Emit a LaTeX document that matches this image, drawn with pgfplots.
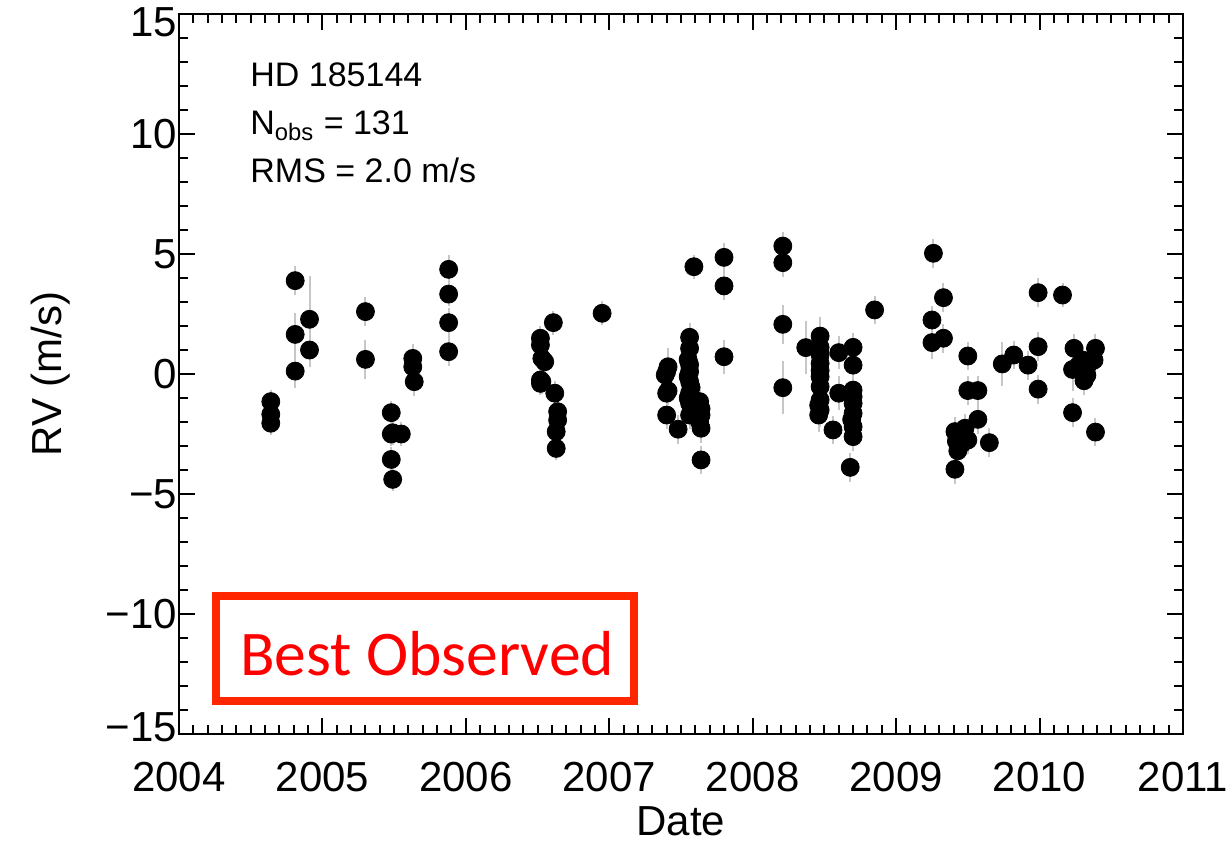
\documentclass[border=0pt]{standalone}
\usepackage{pgfplots}
\pgfplotsset{compat=1.18}
\usepackage{pgfplotstable}
\usepackage{fontspec}
\setmainfont{Liberation Sans}
\newfontfamily\calibrifont{Carlito}

\definecolor{boxred}{RGB}{255,38,0}
\definecolor{textred}{RGB}{255,0,0}

% Radial velocity measurements: date (yr), RV (m/s), uncertainty (m/s)
\pgfplotstableread{
t        rv     e
2004.64  -1.15  0.5
2004.64  -1.68  0.5
2004.64  -2.05  0.5
2004.81   3.89  0.6
2004.81   1.65  0.9
2004.81   0.12  0.7
2004.91   2.28  1.8
2004.91   1.00  0.7
2005.30   2.60  0.6
2005.30   0.61  0.8
2005.48  -1.61  0.5
2005.48  -2.50  0.5
2005.55  -2.50  0.5
2005.48  -3.56  0.5
2005.49  -4.39  0.5
2005.49  -2.45  0.5
2005.63   0.65  0.6
2005.63   0.30  0.5
2005.64  -0.32  0.6
2005.88   4.36  0.6
2005.88   3.33  0.5
2005.88   2.14  0.6
2005.88   0.93  0.6
2006.61   2.14  0.5
2006.52   1.49  0.5
2006.52   1.21  0.5
2006.53   0.65  0.5
2006.55   0.51  0.5
2006.52  -0.25  0.5
2006.52  -0.39  0.5
2006.53  -0.32  0.5
2006.62  -0.80  0.5
2006.64  -1.57  0.5
2006.64  -1.92  0.5
2006.63  -2.40  0.5
2006.63  -3.10  0.5
2006.95   2.53  0.5
2007.41   0.30  0.8
2007.39  -0.04  0.6
2007.40  -0.80  0.6
2007.40  -1.71  0.6
2007.48  -2.30  0.6
2007.40   0.10  0.6
2007.41  -0.70  0.6
2007.56   1.53  0.6
2007.56   1.07  0.6
2007.56   0.38  0.6
2007.55  -0.11  0.6
2007.56  -0.32  0.6
2007.56  -0.80  0.6
2007.56  -1.22  0.6
2007.56  -1.71  0.6
2007.55   0.60  0.6
2007.56   0.10  0.6
2007.57  -0.55  0.6
2007.55  -1.00  0.6
2007.63  -1.15  0.6
2007.64  -1.71  0.6
2007.64  -2.26  0.6
2007.64  -1.45  0.6
2007.63  -2.00  0.6
2007.64  -3.58  0.6
2007.59   4.47  0.5
2007.80   4.86  0.6
2007.80   3.67  0.6
2007.80   0.72  0.7
2008.21   5.33  0.6
2008.21   4.64  0.6
2008.21   2.07  0.8
2008.21  -0.57  1.1
2008.37   1.10  1.1
2008.47   1.58  0.8
2008.47   1.11  0.7
2008.47   0.44  0.7
2008.47  -0.11  0.7
2008.47  -0.53  0.7
2008.47  -1.08  0.7
2008.47  -1.50  0.7
2008.46  -1.71  0.7
2008.47   0.80  0.7
2008.47   0.15  0.7
2008.46  -1.30  0.7
2008.56  -2.33  0.6
2008.60   0.89  0.7
2008.60  -0.80  0.7
2008.70   1.11  0.6
2008.70   0.37  0.6
2008.70  -0.67  0.6
2008.70  -1.22  0.6
2008.70  -1.64  0.6
2008.70  -2.20  0.6
2008.70  -2.61  0.6
2008.69  -1.90  0.6
2008.70  -0.95  0.6
2008.68  -3.89  0.6
2008.85   2.67  0.6
2009.26   5.03  0.6
2009.33   3.18  0.6
2009.25   2.25  0.6
2009.25   1.31  0.7
2009.33   1.49  0.6
2009.50   0.75  0.6
2009.50  -0.69  0.6
2009.57  -0.69  0.6
2009.57  -1.89  0.6
2009.41  -2.40  0.6
2009.48  -2.26  0.6
2009.50  -2.75  0.6
2009.43  -3.20  0.6
2009.45  -2.55  0.6
2009.46  -2.90  0.6
2009.42  -2.80  0.6
2009.41  -3.97  0.6
2009.65  -2.86  0.6
2009.74   0.42  0.9
2009.82   0.79  0.6
2009.92   0.37  0.6
2009.99   3.39  0.6
2009.99   1.14  0.6
2009.99  -0.63  0.6
2010.16   3.29  0.5
2010.24   1.07  0.6
2010.23   0.19  0.9
2010.30   0.58  0.6
2010.31  -0.28  0.6
2010.39   1.07  0.6
2010.38   0.58  0.6
2010.34   0.40  0.6
2010.27   0.35  0.6
2010.33  -0.05  0.6
2010.23  -1.61  0.6
2010.39  -2.42  0.6
}\rvdata

\begin{document}
\begin{tikzpicture}
\begin{axis}[
  at={(0,0)}, anchor=south west,
  width=502pt, height=360pt, scale only axis,
  xmin=2004, xmax=2011, ymin=-15, ymax=15,
  xtick={2004,2005,2006,2007,2008,2009,2010,2011},
  xticklabels={2004,2005,2006,2007,2008,2009,2010,2011},
  ytick={-15,-10,-5,0,5,10,15},
  % end labels are nudged inward so they stay clear of the corners
  yticklabels={\raisebox{3.5pt}[\height][\depth]{−15},−10,−5,0,5,10,\raisebox{-4pt}[\height][\depth]{15}},
  minor x tick num=9, minor y tick num=4,
  tick align=inside,
  major tick length=8pt, minor tick length=4.5pt,
  axis line style={line width=1.2pt},
  every tick/.style={black, line width=1pt},
  tick label style={font=\fontsize{21}{25}\selectfont},
  xticklabel style={yshift=-10.5pt},
  yticklabel style={xshift=2.5pt},
  label style={font=\fontsize{21}{25}\selectfont},
  xlabel={Date},
  ylabel={RV (m/s)},
  xlabel style={at={(axis description cs:0.5,-0.121)}, anchor=center},
  ylabel style={at={(axis description cs:-0.1275,0.5)}, anchor=center},
  clip=false,
]
\addplot[only marks, mark=*, mark size=4.5pt, black,
  mark options={fill=black, draw=black},
  error bars/.cd, y dir=both, y explicit, error mark=none,
  error bar style={line width=1pt, color=black!22}]
  table[x=t, y=rv, y error=e] {\rvdata};

\node[anchor=base west, inner sep=0, font=\fontsize{17}{20}\selectfont]
  at (axis cs:2004.495,12.0) {HD 185144};
\node[anchor=base west, inner sep=0, font=\fontsize{17}{20}\selectfont]
  at (axis cs:2004.495,9.96) {N\textsubscript{obs} = 131};
\node[anchor=base west, inner sep=0, font=\fontsize{17}{20}\selectfont]
  at (axis cs:2004.495,7.96) {RMS = 2.0 m/s};

\draw[boxred, line width=4pt] (axis cs:2004.258,-9.25) rectangle (axis cs:2007.171,-13.625);
\node[anchor=base west, inner sep=0, text=textred, font=\calibrifont\fontsize{31.8}{36}\selectfont]
  at (axis cs:2004.425,-12.58) {Best Observed};
\end{axis}
\pgfresetboundingbox
\path[use as bounding box] (-89.5pt,-54.5pt) rectangle (524pt,367pt);
\end{tikzpicture}
\end{document}
